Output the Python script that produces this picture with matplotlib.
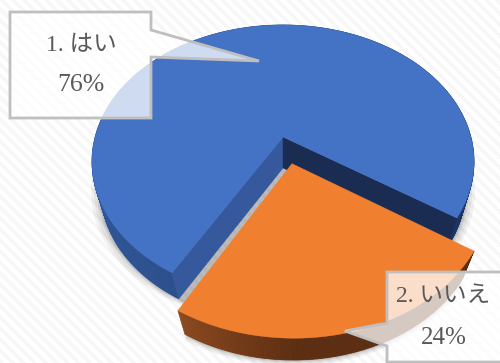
import numpy as np
import matplotlib
matplotlib.use('Agg')
import matplotlib.pyplot as plt
from matplotlib.patches import Polygon
from matplotlib.colors import to_rgb

labels = ['1. はい', '2. いいえ']
values = [76, 24]
percent_text = ['76%', '24%']

W, H = 500, 363
start = 33.5     # degrees, clockwise from +x, where the orange slice begins
explode = 0.2
cx = 283.

fig = plt.figure(figsize=(W/100, H/100), dpi=100)
ax = fig.add_axes([0, 0, 1, 1])
ax.set_xlim(0, W)
ax.set_ylim(H, 0)
ax.axis('off')


# perspective projection of the unit disc, top face
def top(c, s):
    d = 1 - 0.18*s
    return cx + 187.9*c/d, 137 + 132.2*s/d


# bottom face
def low(c, s):
    d = 1 - 0.16*s
    return cx + 180.*c/d, 168 + 130.*s/d


def arc(a0, a1, n=200):
    t = np.radians(np.linspace(a0, a1, n))
    return np.cos(t), np.sin(t)


def lerp(c1, c2, f):
    c1, c2 = np.array(to_rgb(c1)), np.array(to_rgb(c2))
    return tuple(c1 + (c2-c1)*f)


# stripes in the background
bg = np.ones((H, W, 3))
yy, xx = np.mgrid[0:H, 0:W]
band = ((xx - yy) % 11) < 5
bg[band] = to_rgb('#f7f7f7')
ax.imshow(bg, extent=(0, W, H, 0), aspect='auto', zorder=0, interpolation='bilinear')

sweep = np.array(values)/sum(values)*360.
a_orange = (start, start + sweep[1])
a_blue = (start + sweep[1], start + sweep[1] + sweep[0])
mid = np.radians(start + sweep[1]/2)
ox, oy = explode*np.cos(mid), explode*np.sin(mid)

# soft shadow below the pie
for grow, alpha in zip([10, 7, 4, 2], [0.05, 0.06, 0.08, 0.10]):
    c, s = arc(0, 360, 300)
    x, y = low(c, s)
    ax.add_patch(Polygon(np.c_[cx + (x-cx)*(1+grow/190), y+grow*0.3], color='k', alpha=alpha, lw=0, zorder=1))
    c, s = arc(a_orange[0], a_orange[1], 100)
    x, y = low(np.r_[c, 0]+ox, np.r_[s, 0]+oy)
    ax.add_patch(Polygon(np.c_[x, y+grow*0.6], color='k', alpha=alpha, lw=0, zorder=1))

# blue slice: outer wall
c, s = arc(a_blue[0], a_blue[1], 400)
xt, yt = top(c, s)
xl, yl = low(c, s)
for i in range(len(c)-1):
    f = np.clip((xt[i]-100)/360., 0, 1)
    col = lerp('#2f5596', '#1c3563', f)
    ax.add_patch(Polygon([(xt[i], yt[i]), (xt[i+1], yt[i+1]), (xl[i+1], yl[i+1]), (xl[i], yl[i])],
                         fc=col, ec=col, lw=0.5, zorder=2))

# blue slice: cut faces
ax0, ay0 = top(0, 0)
bx0, by0 = low(0, 0)
ax.add_patch(Polygon([(ax0, ay0), (xt[0], yt[0]), (xl[0], yl[0]), (bx0, by0)], fc='#35599c', ec='#35599c', lw=0.3, zorder=3))
ax.add_patch(Polygon([(ax0, ay0), (xt[-1], yt[-1]), (xl[-1], yl[-1]), (bx0, by0)], fc='#1a2c52', ec='#1a2c52', lw=0.3, zorder=3))

# blue slice: top face
ax.add_patch(Polygon(np.r_[[(ax0, ay0)], np.c_[xt, yt]], fc='#4472c4', ec='#4472c4', lw=0.3, zorder=4))

# orange slice
c, s = arc(a_orange[0], a_orange[1], 200)
xt, yt = top(c+ox, s+oy)
xl, yl = low(c+ox, s+oy)
for i in range(len(c)-1):
    f = (xt[i]-xt[-1])/(xt[0]-xt[-1])
    col = lerp('#8a471d', '#5c2d11', min(f*2.5, 1))
    ax.add_patch(Polygon([(xt[i], yt[i]), (xt[i+1], yt[i+1]), (xl[i+1], yl[i+1]), (xl[i], yl[i])],
                         fc=col, ec=col, lw=0.5, zorder=5))
ax.add_patch(Polygon(np.r_[[top(ox, oy)], np.c_[xt, yt]], fc='#f08030', ec='#f08030', lw=0.3, zorder=6))

# callouts
box_kw = dict(fc=(1, 1, 1, 0.75), ec='#bfbfbf', lw=2, joinstyle='miter', zorder=7)
ax.add_patch(Polygon([(10, 12), (151, 12), (151, 30), (259, 61), (151, 57), (151, 118), (10, 118)], **box_kw))
ax.add_patch(Polygon([(387, 272), (502, 272), (502, 362), (387, 362), (387, 346), (345, 331), (387, 323)], **box_kw))

font = ['Liberation Serif', 'Noto Sans CJK JP']
ax.text(81, 46, labels[0], family=font, fontsize=17, color='#595959', ha='center', va='center', zorder=8)
ax.text(81, 85, percent_text[0], family=font, fontsize=18.5, color='#595959', ha='center', va='center', zorder=8)
ax.text(443, 297, labels[1], family=font, fontsize=17, color='#595959', ha='center', va='center', zorder=8)
ax.text(444, 338, percent_text[1], family=font, fontsize=18, color='#595959', ha='center', va='center', zorder=8)

fig.savefig('out.png', dpi=100)
